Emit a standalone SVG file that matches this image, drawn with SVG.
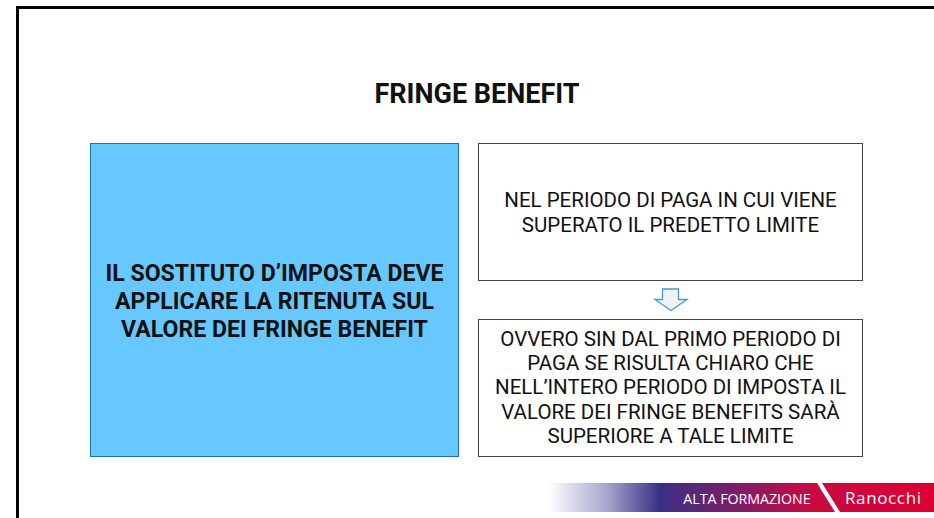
<svg xmlns="http://www.w3.org/2000/svg" width="934" height="518" viewBox="0 0 934 518">
<style>
text{font-family:Roboto,"Liberation Sans",sans-serif;text-anchor:middle;fill:#111}
.b{font-size:23.100px;font-weight:700}
.n{font-size:20.500px}
.box{fill:#fff;stroke:#444;stroke-width:1}
</style>
<defs>
<linearGradient id="g" x1="0" x2="1" y1="0" y2="0">
<stop offset="0" stop-color="#fff"/>
<stop offset="0.15" stop-color="#a9a8cf"/>
<stop offset="0.29" stop-color="#3a2f85"/>
<stop offset="0.46" stop-color="#72206e"/>
<stop offset="0.68" stop-color="#c80a42"/>
<stop offset="1" stop-color="#dc0032"/>
</linearGradient>
</defs>
<rect width="934" height="518" fill="#fff"/>
<path d="M17.500 518V7.500H934" fill="none" stroke="#000" stroke-width="3"/>
<text x="477" y="102.500" style="font-size:27px;font-weight:700">FRINGE BENEFIT</text>
<g id="left"><rect x="90.500" y="143.500" width="368" height="313" fill="#66c8ff" stroke="#1a73b8"/>
<text class="b" x="274.500" y="281">IL SOSTITUTO D’IMPOSTA DEVE</text>
<text class="b" x="274.500" y="309">APPLICARE LA RITENUTA SUL</text>
<text class="b" x="274.500" y="337">VALORE DEI FRINGE BENEFIT</text></g>
<g id="top"><rect class="box" x="478.500" y="143.500" width="384" height="137"/>
<text class="n" x="670.500" y="207">NEL PERIODO DI PAGA IN CUI VIENE</text>
<text class="n" x="670.500" y="232">SUPERATO IL PREDETTO LIMITE</text></g>
<g id="bottom"><rect class="box" x="478.500" y="319.500" width="384" height="137"/>
<text class="n" x="670.500" y="346">OVVERO SIN DAL PRIMO PERIODO DI</text>
<text class="n" x="670.500" y="370">PAGA SE RISULTA CHIARO CHE</text>
<text class="n" x="670.500" y="394">NELL’INTERO PERIODO DI IMPOSTA IL</text>
<text class="n" x="670.500" y="419">VALORE DEI FRINGE BENEFITS SARÀ</text>
<text class="n" x="670.500" y="443">SUPERIORE A TALE LIMITE</text></g>
<g id="connectors"><path d="M662.500 289H678.500V299.500H687L671 310.500L655 299.500H662.500Z" fill="#f2f2f2" stroke="#3d9ad9" stroke-width="1.300"/></g>
<g id="logo"><rect x="548" y="483" width="386" height="29" fill="url(#g)"/>
<path d="M817 483H822L840 512H835Z" fill="#fff"/>
<text x="747" y="504" style="font-size:14.200px;font-weight:500;fill:#fff;font-family:'Open Sans','Liberation Sans',sans-serif">ALTA FORMAZIONE</text>
<text x="883" y="504" textLength="76" style="font-size:17px;font-weight:400;fill:#fff;font-family:'Open Sans','Liberation Sans',sans-serif">Ranocchi</text></g>
</svg>
